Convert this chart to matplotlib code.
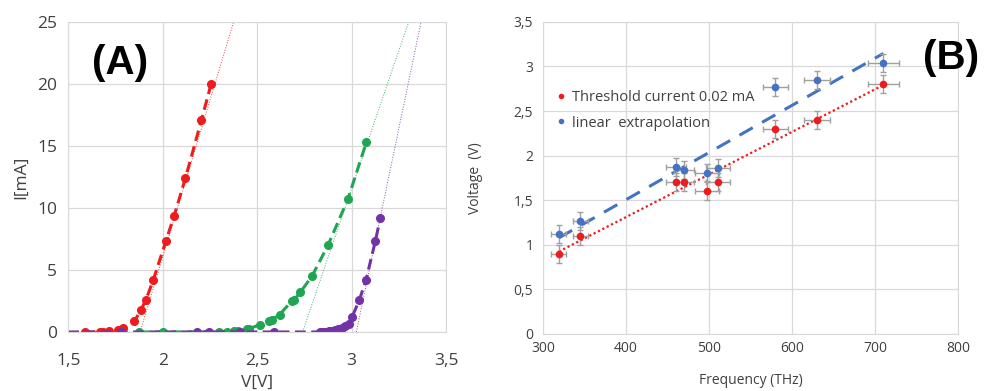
import numpy as np
import matplotlib as mpl
import matplotlib.pyplot as plt
from matplotlib.ticker import FuncFormatter, MultipleLocator
from matplotlib.lines import Line2D

mpl.rcParams['font.family'] = ['Open Sans', 'DejaVu Sans']

# Panel (A): I-V curves of the three LEDs
red_v = [1.588, 1.668, 1.684, 1.715, 1.765, 1.79, 1.85, 1.885, 1.91, 1.95, 2.016, 2.06, 2.12, 2.205, 2.256]
red_i = [0, 0, 0, 0.05, 0.13, 0.3, 0.86, 1.8, 2.55, 4.2, 7.3, 9.35, 12.4, 17.1, 20.0]

green_v = [1.874, 1.999, 2.297, 2.34, 2.377, 2.40, 2.445, 2.455, 2.516, 2.56, 2.577, 2.618,
           2.684, 2.696, 2.728, 2.79, 2.875, 2.98, 3.078]
green_i = [0, 0, 0.02, 0.03, 0.05, 0.08, 0.2, 0.25, 0.6, 0.86, 1.0, 1.4,
           2.5, 2.6, 3.2, 4.5, 7.0, 10.7, 15.3]

purple_v = [1.5, 1.777, 2.18, 2.245, 2.41, 2.59, 2.83, 2.845, 2.86, 2.878, 2.896, 2.913,
            2.93, 2.95, 2.966, 2.984, 3.002, 3.04, 3.076, 3.125, 3.152]
purple_i = [0, 0, 0, 0, 0, 0, 0, 0, 0.02, 0.05, 0.08, 0.13,
            0.2, 0.3, 0.45, 0.67, 1.2, 2.55, 4.2, 7.3, 9.2]

# linear extrapolation of the steep part: threshold voltage [V] and slope [mA/V]
fit_v0 = [1.88, 2.74, 3.025]
fit_slope = [50.5, 44.5, 73.0]

# Panel (B): threshold voltage vs frequency
freq = [319, 345, 460, 469.5, 497.6, 510.8, 580, 630, 710]
freq_err = [9, 9, 12, 12, 14, 14, 15, 16, 19]
v_thresh = [0.9, 1.1, 1.7, 1.7, 1.6, 1.7, 2.3, 2.4, 2.8]
v_extrap = [1.12, 1.27, 1.87, 1.84, 1.81, 1.86, 2.77, 2.85, 3.04]
v_err = 0.1

c_red = '#ee1c1c'
c_green = '#1fa653'
c_purple = '#7332a6'
c_blue = '#4472c4'
grid_c = '#d9d9d9'
text_c = '#404040'

comma = FuncFormatter(lambda v, p: '{:g}'.format(v).replace('.', ','))

fig = plt.figure(figsize=(9.87, 3.91), dpi=100)
axA = fig.add_axes([0.0692, 0.151, 0.3828, 0.793])
axB = fig.add_axes([0.5502, 0.146, 0.4205, 0.798])

for ax in (axA, axB):
    ax.grid(True, color=grid_c, lw=0.9)
    ax.set_axisbelow(True)
    for s in ax.spines.values():
        s.set_color(grid_c)
    ax.tick_params(length=0, colors=text_c)

# ---- (A)
dash = (0, (3.5, 1.8))
for v0, k, col in zip(fit_v0, fit_slope, [c_red, c_green, c_purple]):
    vv = np.array([v0, v0 + 26 / k])
    axA.plot(vv, k * (vv - v0), ':', color=col, lw=0.7, alpha=0.85)

axA.plot(red_v, red_i, linestyle=dash, color=c_red, lw=2.2, marker='o', ms=5.5)
axA.plot(green_v, green_i, linestyle=dash, color=c_green, lw=2.2, marker='o', ms=5.5)
axA.plot(purple_v, purple_i, linestyle=dash, color=c_purple, lw=2.2, marker='o', ms=5.5,
         markevery=slice(1, None))

axA.set_xlim(1.5, 3.5)
axA.set_ylim(0, 25)
axA.xaxis.set_major_locator(MultipleLocator(0.5))
axA.yaxis.set_major_locator(MultipleLocator(5))
axA.xaxis.set_major_formatter(comma)
axA.yaxis.set_major_formatter(comma)
axA.tick_params(labelsize=12.5, pad=8)
axA.tick_params(axis='x', pad=15)
axA.set_xlabel('V[V]', fontsize=12.5, color=text_c, labelpad=4)
axA.set_ylabel('I[mA]', fontsize=12.5, color=text_c, labelpad=6)
axA.text(0.136, 0.867, '(A)', transform=axA.transAxes, fontsize=29, fontweight='bold',
         family='Liberation Sans', ha='center', va='center')

# ---- (B)
fx = np.array([min(freq), max(freq)])
for vals, col, ls, lw in [(v_thresh, c_red, (0, (1, 1.2)), 1.6), (v_extrap, c_blue, (0, (5, 3.5)), 2.2)]:
    p = np.polyfit(freq, vals, 1)
    axB.plot(fx, np.polyval(p, fx), linestyle=ls, color=col, lw=lw)

axB.errorbar(freq, v_thresh, xerr=freq_err, yerr=v_err, fmt='o', color=c_red, ms=4.5,
             ecolor='#a0a0a0', elinewidth=1, capsize=2.5, capthick=1)
axB.errorbar(freq, v_extrap, xerr=freq_err, yerr=v_err, fmt='o', color=c_blue, ms=4.5,
             ecolor='#a0a0a0', elinewidth=1, capsize=2.5, capthick=1)

axB.set_xlim(300, 800)
axB.set_ylim(0, 3.5)
axB.xaxis.set_major_locator(MultipleLocator(100))
axB.yaxis.set_major_locator(MultipleLocator(0.5))
axB.yaxis.set_major_formatter(comma)
axB.tick_params(labelsize=10, pad=7)
axB.tick_params(axis='x', pad=5)
axB.set_xlabel('Frequency (THz)', fontsize=10, color=text_c, labelpad=12)
axB.set_ylabel('Voltage  (V)', fontsize=10, color=text_c, labelpad=22)

handles = [Line2D([], [], ls='', marker='o', ms=3, color=c_red),
           Line2D([], [], ls='', marker='o', ms=3, color=c_blue)]
axB.legend(handles, ['Threshold current 0.02 mA', 'linear  extrapolation'],
           loc='upper left', bbox_to_anchor=(0.0, 0.825), frameon=False, fontsize=10.5,
           handlelength=0.6, handletextpad=0.5, labelspacing=0.75, labelcolor=text_c)

fig.text(0.9635, 0.852, '(B)', fontsize=29, fontweight='bold', family='Liberation Sans',
         ha='center', va='center')

fig.savefig('out.png', dpi=100)
